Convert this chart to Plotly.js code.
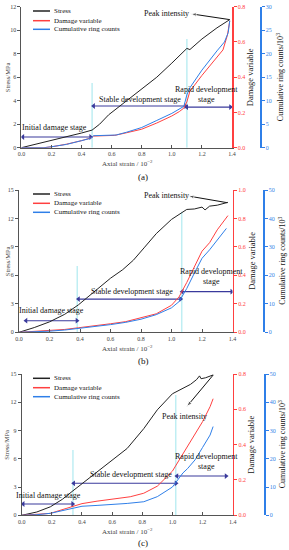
<!DOCTYPE html>
<html><head><meta charset="utf-8">
<script src="https://cdn.plot.ly/plotly-3.0.1.min.js"></script>
<style>html,body{margin:0;padding:0;background:#fff}#c{width:289px;height:550px}</style>
</head><body><div id="c"></div>
<script>
// ---- Panel (a) ----
const strainStressA = [0,0.1,0.2,0.3,0.4,0.47,0.52,0.58,0.65,0.72,0.8,0.9,1.0,1.08,1.1,1.12,1.2,1.3,1.385];
const stressA       = [0,0.3,0.65,0.95,1.25,1.5,2.0,2.8,3.5,4.2,5.0,6.0,7.2,8.2,8.45,8.35,9.25,10.2,10.9];
const strainDamageA = [0,0.15,0.2,0.3,0.4,0.46,0.48,0.55,0.62,0.7,0.8,0.9,1.0,1.05,1.08,1.1,1.12,1.2,1.3,1.34,1.37,1.385];
const damageA       = [0,0,0.005,0.02,0.04,0.055,0.066,0.068,0.07,0.085,0.105,0.14,0.18,0.205,0.225,0.26,0.32,0.41,0.51,0.555,0.64,0.72];
const strainRingA   = [0,0.15,0.2,0.3,0.4,0.46,0.48,0.55,0.63,0.7,0.8,0.9,1.0,1.08,1.1,1.12,1.2,1.3,1.35,1.375,1.385];
const ringA         = [0,0,0.2,0.7,1.5,2.0,2.55,2.6,2.7,3.3,4.3,5.8,7.3,8.8,11.25,12.75,16.5,20.6,22.5,24.5,27];
// ---- Panel (b) ----
const strainStressB = [0,0.1,0.2,0.3,0.39,0.46,0.53,0.6,0.68,0.75,0.82,0.9,1.0,1.07,1.1,1.15,1.2,1.22,1.25,1.3,1.37];
const stressB       = [0,0.5,1.1,1.9,2.9,3.8,4.8,5.7,6.6,7.6,8.9,10.4,11.9,12.7,12.95,13.0,13.2,12.9,13.3,13.4,13.7];
const strainDamageB = [0,0.1,0.2,0.3,0.39,0.5,0.6,0.7,0.8,0.9,1.0,1.05,1.1,1.15,1.2,1.25,1.3,1.37];
const damageB       = [0,0.005,0.012,0.02,0.032,0.045,0.06,0.075,0.1,0.13,0.19,0.25,0.35,0.46,0.57,0.63,0.72,0.82];
const strainRingB   = [0,0.1,0.2,0.3,0.39,0.5,0.6,0.7,0.8,0.9,1.0,1.05,1.1,1.15,1.2,1.25,1.3,1.36];
const ringB         = [0,0.1,0.4,0.8,1.3,2.0,2.7,3.5,4.6,6.2,8.6,10.8,15.4,20.8,26,29,32.6,36.5];
// ---- Panel (c) ----
const strainStressC = [0,0.1,0.19,0.27,0.34,0.42,0.52,0.6,0.7,0.81,0.9,1.0,1.06,1.12,1.16,1.18,1.19,1.22,1.27];
const stressC       = [0,0.35,0.9,1.7,2.6,3.6,4.8,5.8,7.1,9.2,11.2,12.9,13.4,13.9,14.4,14.8,14.5,14.6,14.9];
const strainDamageC = [0,0.1,0.19,0.3,0.4,0.5,0.63,0.72,0.81,0.9,1.0,1.07,1.15,1.2,1.25,1.27];
const damageC       = [0,0.004,0.011,0.04,0.066,0.08,0.096,0.105,0.125,0.165,0.25,0.35,0.46,0.53,0.615,0.66];
const strainRingC   = [0,0.1,0.19,0.3,0.4,0.5,0.6,0.7,0.81,0.9,1.0,1.07,1.1,1.15,1.2,1.25,1.27];
const ringC         = [0,0.2,0.7,2.0,3.2,3.5,3.8,4.2,4.8,6.6,10,15,16.5,19.6,24,28.4,31.4];
// ---- stage boundaries (strain) ----
const stageBoundsA = [0.47, 1.1];
const stageBoundsB = [0.382, 1.067];
const stageBoundsC = [0.34, 1.022];
// ---- labels ----
const seriesNames = ['Stress','Damage variable','Cumulative ring counts'];
const stageLabels = ['Initial damage stage','Stable development stage','Rapid development<br>stage'];
const panelLabels = ['(a)','(b)','(c)'];
const xTickVals = [0,0.2,0.4,0.6,0.8,1.0,1.2,1.4];
const xTickText = ['0.0','0.2','0.4','0.6','0.8','1.0','1.2','1.4'];

const W=289,H=550;
const px=v=>v/W, py=v=>1-v/H;
const SERIF='"Liberation Serif","DejaVu Serif",serif';
const BLACK='#222', RED='#ff4040', BLUE='#2f7fe8', NAVY='#3a3a9c', CYAN='#bfeef3';
const COLORS=[BLACK,RED,BLUE];
const C={xanchor:'center',yanchor:'middle',showarrow:false};

const panels=[
 {sx:strainStressA,s:stressA,dx:strainDamageA,d:damageA,rx:strainRingA,r:ringA,
  xd:[px(21.4),px(232)],yd:[py(147.7),py(6.7)],yr:[0,12],yt:[0,2,4,6,8,10,12],
  dr:[0,0.8],dt:[0,0.2,0.4,0.6,0.8],rr:[0,30],rt:[0,5,10,15,20,25,30],bluePos:px(260),
  bounds:stageBoundsA,
  init:{a:[0.01,0.46],y:0.91,tx:0.223,ty:1.68},
  stab:{a:[0.48,1.092],y:3.55,tx:0.787,ty:4.14},
  rap:{a:[1.099,1.39],y:3.46,tx:1.23,ty:4.57},
  vtop:[5.5,9.25],
  peak:{tx:0.966,ty:11.4,hx:1.125,hy:11.4,px:1.385,py:10.9},
  leg:[11,20.7,29.3], lab:[143,177], xt:163, dvX:250, crX:280},
 {sx:strainStressB,s:stressB,dx:strainDamageB,d:damageB,rx:strainRingB,r:ringB,
  xd:[px(19),px(232.5)],yd:[py(332.3),py(190)],yr:[0,15],yt:[0,3,6,9,12,15],
  dr:[0,1.0],dt:[0,0.2,0.4,0.6,0.8,1.0],rr:[0,50],rt:[0,10,20,30,40,50],bluePos:px(263),
  bounds:stageBoundsB,
  init:{a:[0.046,0.38],y:1.22,tx:0.216,ty:2.35},
  stab:{a:[0.39,1.06],y:3.5,tx:0.74,ty:4.35},
  rap:{a:[1.07,1.395],y:4.28,tx:1.264,ty:5.9},
  vtop:[7.0,12.7],
  peak:{tx:0.964,ty:14.4,hx:1.11,hy:14.37,px:1.366,py:13.66},
  leg:[194,203.3,212.3], lab:[143,361], xt:348, dvX:251.7, crX:281.7},
 {sx:strainStressC,s:stressC,dx:strainDamageC,d:damageC,rx:strainRingC,r:ringC,
  xd:[px(21.7),px(232.7)],yd:[py(515.3),py(374)],yr:[0,15],yt:[0,3,6,9,12,15],
  dr:[0,0.8],dt:[0,0.2,0.4,0.6,0.8],rr:[0,50],rt:[0,10,20,30,40,50],bluePos:px(264),
  bounds:stageBoundsC,
  init:{a:[0.01,0.338],y:1.2,tx:0.178,ty:2.15},
  stab:{a:[0.345,1.024],y:3.4,tx:0.725,ty:4.35},
  rap:{a:[1.03,1.356],y:4.17,tx:1.228,ty:5.73},
  vtop:[6.93,12.77],
  peak:{tx:1.077,ty:10.47,hx:1.095,hy:11.53,px:1.271,py:14.9},
  leg:[378.3,387.7,396.7], lab:[143,543], xt:531.7, dvX:251, crX:281.7}
];

const data=[], shapes=[], annotations=[];
const layout={width:W,height:H,margin:{l:0,r:0,t:0,b:0},paper_bgcolor:'#fff',plot_bgcolor:'rgba(0,0,0,0)',
  font:{family:SERIF,size:7,color:'#333'},showlegend:false};

panels.forEach((p,i)=>{
  const xi=i+1, xn=xi===1?'x':'x'+xi, xk=xi===1?'xaxis':'xaxis'+xi;
  const y1=3*i+1,y2=3*i+2,y3=3*i+3;
  const yn=k=>k===1?'y':'y'+k, yk=k=>k===1?'yaxis':'yaxis'+k;
  // stage arrows
  [[p.init,0],[p.stab,1],[p.rap,2]].forEach(([s,k])=>{
    data.push({x:s.a,y:[s.y,s.y],xaxis:xn,yaxis:yn(y1),mode:'lines+markers',hoverinfo:'skip',
      line:{color:NAVY,width:1.2},marker:{symbol:['triangle-left','triangle-right'],size:5,color:NAVY}});
    annotations.push(Object.assign({xref:xn,yref:yn(y1),x:s.tx,y:s.ty,text:stageLabels[k],
      font:{size:8,family:SERIF,color:'#111'}},C));
  });
  // peak arrow
  data.push({x:[p.peak.px,p.peak.hx],y:[p.peak.py,p.peak.hy],xaxis:xn,yaxis:yn(y1),mode:'lines+markers',hoverinfo:'skip',
    line:{color:'#111',width:1},marker:{symbol:'arrow',angleref:'previous',size:[0,6],color:'#111'}});
  annotations.push(Object.assign({xref:xn,yref:yn(y1),x:p.peak.tx,y:p.peak.ty,text:'Peak intensity',
    font:{size:8,family:SERIF,color:'#111'}},C));
  // series
  data.push({x:p.sx,y:p.s,xaxis:xn,yaxis:yn(y1),name:seriesNames[0],mode:'lines',line:{color:BLACK,width:1}});
  data.push({x:p.dx,y:p.d,xaxis:xn,yaxis:yn(y2),name:seriesNames[1],mode:'lines',line:{color:RED,width:1}});
  data.push({x:p.rx,y:p.r,xaxis:xn,yaxis:yn(y3),name:seriesNames[2],mode:'lines',line:{color:BLUE,width:1}});
  layout[xk]={domain:p.xd,anchor:yn(y1),range:[0,1.4],tickvals:xTickVals,ticktext:xTickText,
    showline:true,linecolor:'#555',linewidth:1,ticks:'inside',ticklen:3,tickcolor:'#555',
    showgrid:false,zeroline:false,tickfont:{size:6,color:'#444',family:SERIF}};
  layout[yk(y1)]={domain:p.yd,anchor:xn,range:p.yr,tickvals:p.yt,showline:true,linecolor:'#555',linewidth:1,
    ticks:'outside',ticklen:3,tickcolor:'#555',showgrid:false,zeroline:false,tickfont:{size:6,color:'#444',family:SERIF}};
  layout[yk(y2)]={overlaying:yn(y1),anchor:xn,side:'right',range:p.dr,tickvals:p.dt,
    tickformat:'.1f',showline:true,linecolor:RED,linewidth:1.5,ticks:'outside',ticklen:3,tickcolor:RED,
    showgrid:false,zeroline:false,tickfont:{size:6,color:RED,family:SERIF}};
  layout[yk(y3)]={overlaying:yn(y1),anchor:'free',position:p.bluePos,side:'right',range:p.rr,tickvals:p.rt,
    showline:true,linecolor:BLUE,linewidth:1.5,ticks:'outside',ticklen:3,tickcolor:BLUE,
    showgrid:false,zeroline:false,tickfont:{size:6,color:BLUE,family:SERIF}};
  // manual legend
  seriesNames.forEach((nm,k)=>{
    shapes.push({type:'line',xref:'paper',yref:'paper',x0:px(33),x1:px(50),y0:py(p.leg[k]),y1:py(p.leg[k]),
      line:{color:COLORS[k],width:1.5}});
    annotations.push({xref:'paper',yref:'paper',x:px(52),y:py(p.leg[k]),text:nm,showarrow:false,
      xanchor:'left',yanchor:'middle',font:{size:7,family:SERIF,color:'#111'}});
  });
  // stage boundary lines
  p.bounds.forEach((b,k)=>{
    shapes.push({type:'line',xref:xn,yref:yn(y1),x0:b,x1:b,y0:0,y1:p.vtop[k],line:{color:CYAN,width:1.5},layer:'below'});
  });
  // axis titles
  const yMid=(p.yd[0]+p.yd[1])/2;
  annotations.push(Object.assign({xref:'paper',yref:'paper',x:px(7),y:yMid,text:'Stress/MPa',textangle:-90,
    font:{size:6.5,family:SERIF,color:'#444'}},C));
  annotations.push(Object.assign({xref:'paper',yref:'paper',x:px(p.dvX),y:yMid,text:'Damage variable',textangle:-90,
    font:{size:8.5,family:SERIF,color:'#111'}},C));
  annotations.push(Object.assign({xref:'paper',yref:'paper',x:px(p.crX),y:yMid,text:'Cumulative ring counts/10<sup>3</sup>',textangle:-90,
    font:{size:8,family:SERIF,color:'#111'}},C));
  annotations.push(Object.assign({xref:'paper',yref:'paper',x:px(127),y:py(p.xt),text:'Axial strain / 10<sup>−2</sup>',
    font:{size:7,family:SERIF,color:'#444'}},C));
  annotations.push(Object.assign({xref:'paper',yref:'paper',x:px(p.lab[0]),y:py(p.lab[1]),text:panelLabels[i],
    font:{size:9,family:SERIF,color:'#111'}},C));
});
layout.shapes=shapes; layout.annotations=annotations;
Plotly.newPlot('c',data,layout,{staticPlot:true,displayModeBar:false});
</script></body></html>
